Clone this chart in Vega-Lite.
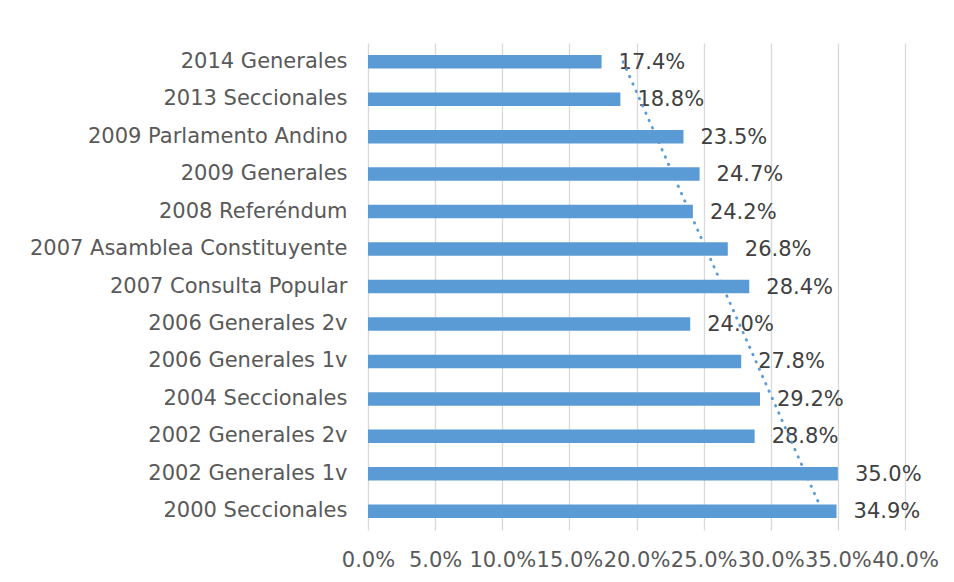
{
  "$schema": "https://vega.github.io/schema/vega-lite/v6.json",
  "width": 537,
  "height": 487,
  "autosize": "none",
  "padding": {"left": 368, "top": 43, "right": 49, "bottom": 52},
  "background": "white",
  "config": {
    "view": {"stroke": null},
    "font": "DejaVu Sans",
    "axis": {"labelFont": "DejaVu Sans"}
  },
  "data": {
    "values": [
      {"label": "2014 Generales", "value": 0.174, "idx": 13},
      {"label": "2013 Seccionales", "value": 0.188, "idx": 12},
      {"label": "2009 Parlamento Andino", "value": 0.235, "idx": 11},
      {"label": "2009 Generales", "value": 0.247, "idx": 10},
      {"label": "2008 Referéndum", "value": 0.242, "idx": 9},
      {"label": "2007 Asamblea Constituyente", "value": 0.268, "idx": 8},
      {"label": "2007 Consulta Popular", "value": 0.284, "idx": 7},
      {"label": "2006 Generales 2v", "value": 0.240, "idx": 6},
      {"label": "2006 Generales 1v", "value": 0.278, "idx": 5},
      {"label": "2004 Seccionales", "value": 0.292, "idx": 4},
      {"label": "2002 Generales 2v", "value": 0.288, "idx": 3},
      {"label": "2002 Generales 1v", "value": 0.350, "idx": 2},
      {"label": "2000 Seccionales", "value": 0.349, "idx": 1}
    ]
  },
  "layer": [
    {
      "layer": [
        {
          "mark": {"type": "bar", "color": "#5B9BD5"},
          "encoding": {
            "y": {
              "field": "label", "type": "nominal", "sort": null,
              "scale": {"paddingInner": 0.64, "paddingOuter": 0.32},
              "axis": {
                "title": null, "ticks": false, "domain": false, "grid": false,
                "labelFontSize": 21, "labelColor": "#595959", "labelPadding": 21, "labelLimit": 400
              }
            },
            "x": {
              "field": "value", "type": "quantitative",
              "scale": {"domain": [0, 0.4], "nice": false},
              "axis": {
                "title": null, "format": ".1%", "values": [0, 0.05, 0.1, 0.15, 0.2, 0.25, 0.3, 0.35, 0.4],
                "ticks": false, "domain": false, "grid": true, "gridColor": "#d9d9d9", "gridWidth": 1.3,
                "labelFontSize": 21, "labelColor": "#595959", "labelPadding": 19, "labelFlush": false, "labelOverlap": false
              }
            }
          }
        },
        {
          "mark": {"type": "text", "align": "left", "baseline": "middle", "dx": 17, "dy": 1, "fontSize": 21, "color": "#404040"},
          "encoding": {
            "y": {"field": "label", "type": "nominal", "sort": null},
            "x": {"field": "value", "type": "quantitative"},
            "text": {"field": "value", "type": "quantitative", "format": ".1%"}
          }
        }
      ]
    },
    {
      "transform": [{"regression": "value", "on": "idx", "extent": [1, 13]}],
      "mark": {"type": "line", "color": "#5B9BD5", "strokeWidth": 2.8, "strokeDash": [0.5, 7.5], "strokeCap": "round"},
      "encoding": {
        "y": {"field": "idx", "type": "quantitative", "scale": {"domain": [0.5, 13.5], "nice": false, "zero": false}, "axis": null},
        "x": {"field": "value", "type": "quantitative"}
      }
    }
  ],
  "resolve": {"scale": {"y": "independent"}}
}
